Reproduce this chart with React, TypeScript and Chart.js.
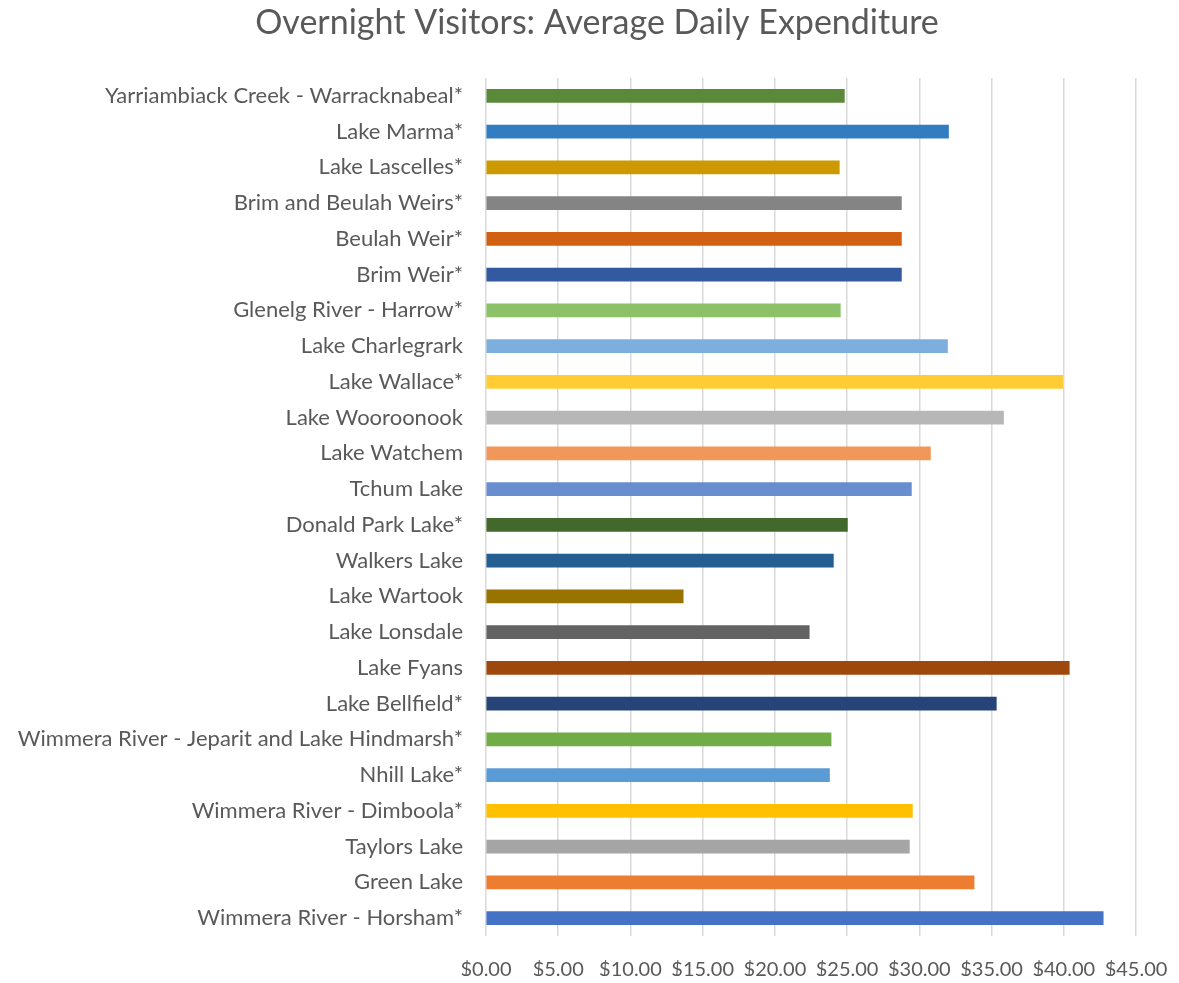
import React, { useEffect, useRef } from "react";
import { Chart, registerables } from "chart.js";

Chart.register(...registerables);

const TITLE = "Overnight Visitors: Average Daily Expenditure";

const categories: string[] = [
  "Yarriambiack Creek - Warracknabeal*",
  "Lake Marma*",
  "Lake Lascelles*",
  "Brim and Beulah Weirs*",
  "Beulah Weir*",
  "Brim Weir*",
  "Glenelg River - Harrow*",
  "Lake Charlegrark",
  "Lake Wallace*",
  "Lake Wooroonook",
  "Lake Watchem",
  "Tchum Lake",
  "Donald Park Lake*",
  "Walkers Lake",
  "Lake Wartook",
  "Lake Lonsdale",
  "Lake Fyans",
  "Lake Bellfield*",
  "Wimmera River - Jeparit and Lake Hindmarsh*",
  "Nhill Lake*",
  "Wimmera River - Dimboola*",
  "Taylors Lake",
  "Green Lake",
  "Wimmera River - Horsham*",
];

const values: number[] = [
  24.81, 32.02, 24.46, 28.76, 28.76, 28.76, 24.53, 31.95, 39.92, 35.83, 30.77,
  29.45, 25.02, 24.05, 13.65, 22.38, 40.38, 35.33, 23.89, 23.78, 29.52, 29.31,
  33.79, 42.73,
];

const barColors: string[] = [
  "#5A8A39", "#327DC2", "#CC9A00", "#848484", "#D26012", "#335AA1",
  "#8CC168", "#7CAFDD", "#FFCD33", "#B7B7B7", "#F1975A", "#698ED0",
  "#43682B", "#255E91", "#997300", "#636363", "#9E480E", "#264478",
  "#70AD47", "#5B9BD5", "#FFC000", "#A5A5A5", "#ED7D31", "#4472C4",
];

const xMin = 0;
const xMax = 45;
const xStep = 5;

const titlePlugin = {
  id: "centeredTitle",
  afterDraw(chart: any) {
    const ctx = chart.ctx;
    ctx.save();
    ctx.fillStyle = "#595959";
    ctx.font = "normal 34px Lato";
    ctx.textAlign = "center";
    ctx.textBaseline = "middle";
    ctx.fillText(TITLE, 597, 23);
    ctx.restore();
  },
};

export default function App() {
  const canvasRef = useRef<HTMLCanvasElement | null>(null);

  useEffect(() => {
    if (!canvasRef.current) return;
    const chart = new Chart(canvasRef.current, {
      type: "bar",
      data: {
        labels: categories,
        datasets: [
          {
            data: values,
            backgroundColor: barColors,
            borderWidth: 0,
            barThickness: 13,
          },
        ],
      },
      plugins: [titlePlugin],
      options: {
        indexAxis: "y",
        responsive: false,
        animation: false,
        layout: { padding: { left: 4, right: 43, top: 78, bottom: 7 } },
        plugins: {
          legend: { display: false },
          tooltip: { enabled: false },
          title: { display: false },
        },
        scales: {
          x: {
            min: xMin,
            max: xMax,
            ticks: {
              stepSize: xStep,
              color: "#595959",
              font: { family: "Lato", size: 20 },
              padding: 22,
              maxRotation: 0,
              autoSkip: false,
              callback: (v: any) => "$" + Number(v).toFixed(2),
            },
            grid: { color: "#d9d9d9", lineWidth: 1.5, drawTicks: false },
            border: { display: false },
            afterFit: (scale: any) => {
              scale.height = 40;
              scale.paddingLeft = 0;
              scale.paddingRight = 0;
            },
          },
          y: {
            ticks: {
              color: "#595959",
              font: { family: "Lato", size: 22 },
              padding: 23,
              autoSkip: false,
            },
            grid: { display: false, drawTicks: false },
            border: { display: false },
            afterFit: (scale: any) => {
              scale.width = 482;
              scale.paddingTop = 0;
              scale.paddingBottom = 0;
            },
          },
        },
      },
    });
    return () => chart.destroy();
  }, []);

  return (
    <div style={{ position: "absolute", left: 0, top: 0, width: 1179, height: 983, background: "#fff" }}>
      <canvas ref={canvasRef} width={1179} height={983} />
    </div>
  );
}
